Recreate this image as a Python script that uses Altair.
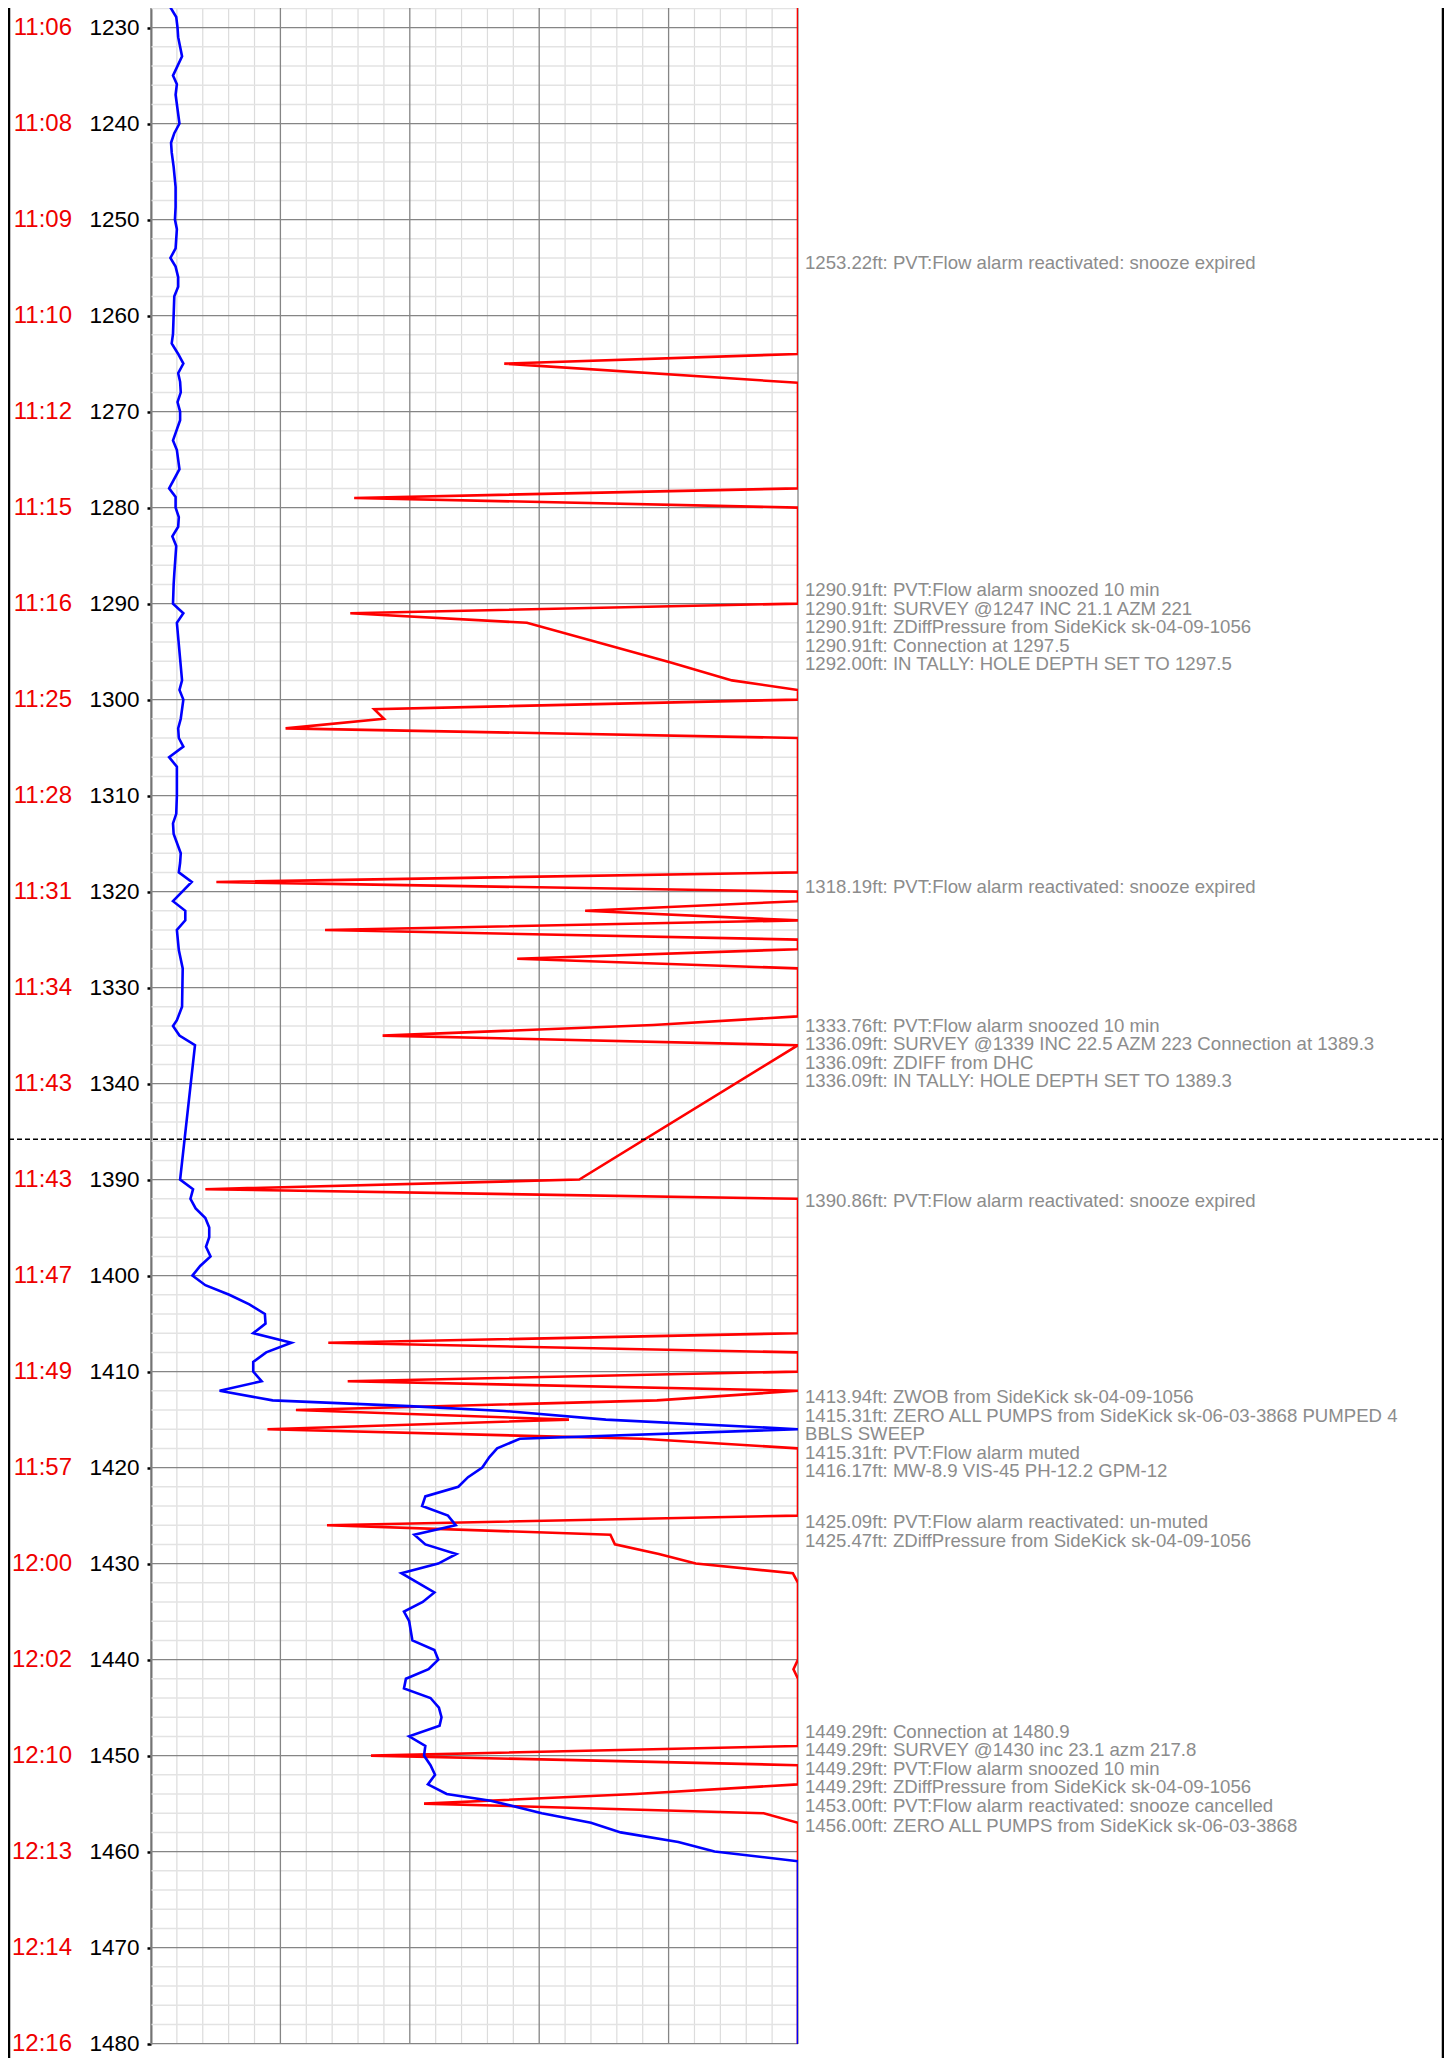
import altair as alt
import pandas as pd

tick_depth = [1230, 1240, 1250, 1260, 1270, 1280, 1290, 1300, 1310, 1320, 1330, 1340,
              1390, 1400, 1410, 1420, 1430, 1440, 1450, 1460, 1470, 1480]
tick_time = ["11:06", "11:08", "11:09", "11:10", "11:12", "11:15", "11:16", "11:25",
             "11:28", "11:31", "11:34", "11:43",
             "11:43", "11:47", "11:49", "11:57", "12:00", "12:02", "12:10", "12:13",
             "12:14", "12:16"]

blue_depth = [1227.15, 1227.9, 1228.9, 1230, 1231, 1233, 1235, 1235.9, 1237, 1240,
              1241, 1242, 1243, 1244.5, 1246.6, 1248.7, 1250, 1251, 1253, 1254,
              1254.9, 1256, 1257, 1258, 1261.9, 1262.9, 1264, 1265, 1266, 1266.9,
              1268, 1269, 1270, 1270.9, 1273, 1274, 1276, 1278, 1278.9, 1280,
              1281, 1282, 1283, 1284, 1286.9, 1288, 1290, 1291, 1292, 1298,
              1299, 1300, 1302, 1303, 1304, 1304.9, 1306, 1307, 1310, 1311.9,
              1312.9, 1314, 1316, 1317, 1318, 1319, 1321, 1322, 1323, 1324,
              1326.1, 1328, 1332, 1333.4, 1334, 1335, 1336,
              1390, 1391, 1392, 1393, 1394, 1395, 1396, 1397, 1398, 1399,
              1400, 1401, 1402, 1403, 1404, 1405, 1406, 1407, 1408, 1409,
              1410, 1411, 1412, 1413, 1413.6, 1414.1, 1415, 1416, 1417, 1418,
              1418.9, 1420, 1421, 1422, 1423, 1424, 1425, 1426, 1427, 1428,
              1429, 1430, 1431, 1433, 1434, 1435, 1436, 1438, 1439, 1440,
              1441, 1442, 1443, 1444, 1445, 1446, 1446.9, 1448, 1449, 1450,
              1451, 1452, 1453, 1454, 1454.7, 1456, 1457, 1458, 1459, 1460,
              1461, 1484]
blue_value = [3.3, 3.0, 3.9, 4.1, 4.2, 4.8, 3.4, 4.0, 3.8, 4.4,
              3.6, 3.1, 3.2, 3.5, 3.8, 3.8, 3.7, 4.0, 3.8, 3.0,
              3.8, 4.2, 4.2, 3.6, 3.4, 3.2, 4.2, 5.0, 4.2, 4.5,
              4.6, 4.1, 4.5, 4.5, 3.4, 4.0, 4.4, 2.8, 3.8, 3.8,
              4.3, 4.2, 3.3, 3.9, 3.6, 3.5, 3.4, 5.0, 4.0, 4.8,
              4.4, 5.0, 4.6, 4.2, 4.3, 5.0, 2.8, 4.0, 4.0, 3.9,
              3.4, 3.5, 4.6, 4.5, 4.3, 6.3, 3.4, 5.3, 5.3, 4.0,
              4.3, 4.9, 4.8, 4.0, 3.4, 4.4, 6.8,
              4.5, 6.5, 6.1, 6.9, 8.4, 9.0, 9.0, 8.5, 9.2, 7.6,
              6.4, 8.4, 12.1, 15.2, 17.6, 17.7, 15.8, 21.7, 17.8, 15.8,
              15.8, 17.1, 10.6, 18.8, 39.9, 54.5, 70.3, 100, 57.0, 53.5,
              52.3, 51.2, 49.0, 47.5, 42.4, 41.9, 45.9, 47.1, 40.7, 42.4,
              47.2, 44.4, 38.7, 43.8, 42.0, 39.1, 39.9, 40.4, 43.8, 44.4,
              42.9, 39.4, 39.1, 43.2, 44.5, 44.9, 44.6, 39.9, 42.4, 42.2,
              43.2, 43.9, 42.8, 45.7, 52.5, 60.4, 68.0, 72.6, 81.5, 87.1,
              100, 100]

red_depth = [1226, 1264, 1265, 1267, 1278, 1279, 1280, 1290, 1291, 1292,
             1296.1, 1298, 1299, 1300, 1301, 1302, 1303, 1304, 1318, 1319,
             1320, 1321, 1322, 1323, 1324, 1325, 1326, 1327, 1328, 1333,
             1333.9, 1335, 1336, 1390, 1391, 1392, 1406, 1407, 1408, 1410,
             1411, 1412, 1413, 1414, 1415, 1416, 1417, 1418, 1425, 1426,
             1427, 1428, 1429, 1430, 1431, 1432, 1440, 1441, 1442, 1449,
             1450, 1451, 1453, 1454, 1455, 1456, 1457, 1484]
red_value = [100, 100, 54.6, 100, 100, 31.4, 100, 100, 30.8, 58.1,
             80.2, 89.8, 100, 100, 34.5, 36.0, 20.8, 100, 100, 10.1,
             100, 100, 67.1, 100, 26.9, 100, 100, 56.6, 100, 100,
             77.6, 35.8, 100, 66.2, 8.4, 100, 100, 27.4, 100, 100,
             30.4, 100, 78.2, 22.4, 64.6, 18.0, 75.9, 100, 100, 27.2,
             71.0, 71.7, 78.5, 84.2, 99.2, 100, 100, 99.3, 100, 100,
             34.0, 100, 100, 74.9, 42.2, 94.7, 100, 100]

event_depth = [1253.22, 1290.91, 1290.91, 1290.91, 1290.91, 1292.00, 1318.19,
               1333.76, 1336.09, 1336.09, 1336.09, 1390.86, 1413.94, 1415.31,
               1415.31, 1416.17, 1425.09, 1425.47, 1449.29, 1449.29, 1449.29,
               1449.29, 1453.00, 1456.00]
event_text = [
    "PVT:Flow alarm reactivated: snooze expired",
    "PVT:Flow alarm snoozed 10 min",
    "SURVEY @1247 INC 21.1 AZM 221",
    "ZDiffPressure from SideKick sk-04-09-1056",
    "Connection at 1297.5",
    "IN TALLY: HOLE DEPTH SET TO 1297.5",
    "PVT:Flow alarm reactivated: snooze expired",
    "PVT:Flow alarm snoozed 10 min",
    "SURVEY @1339 INC 22.5 AZM 223 Connection at 1389.3",
    "ZDIFF from DHC",
    "IN TALLY: HOLE DEPTH SET TO 1389.3",
    "PVT:Flow alarm reactivated: snooze expired",
    "ZWOB from SideKick sk-04-09-1056",
    "ZERO ALL PUMPS from SideKick sk-06-03-3868 PUMPED 4\nBBLS SWEEP",
    "PVT:Flow alarm muted",
    "MW-8.9 VIS-45 PH-12.2 GPM-12",
    "PVT:Flow alarm reactivated: un-muted",
    "ZDiffPressure from SideKick sk-04-09-1056",
    "Connection at 1480.9",
    "SURVEY @1430 inc 23.1 azm 217.8",
    "PVT:Flow alarm snoozed 10 min",
    "ZDiffPressure from SideKick sk-04-09-1056",
    "PVT:Flow alarm reactivated: snooze cancelled",
    "ZERO ALL PUMPS from SideKick sk-06-03-3868",
]

# ---------------- broken depth axis ----------------
BREAK_DEPTH = 1345.8   # where the upper section ends
BREAK_GAP = 40.0       # depth skipped by the break


def to_plot(d):
    return d if d < 1365 else d - BREAK_GAP


PX_PER_FT = 9.6
W = 647
H = 2036
PAD_B = 14
Y_MIN = 1227.96
Y_MAX = Y_MIN + H / PX_PER_FT
FONT = "Liberation Sans"

ysc = alt.Scale(domain=[Y_MIN, Y_MAX], reverse=True, nice=False, zero=False)
xsc = alt.Scale(domain=[0, 100], nice=False, zero=False)

major_y = [to_plot(d) for d in tick_depth]
yaxis = alt.Axis(
    values=major_y,
    labelExpr=f"datum.value > {BREAK_DEPTH} ? format(datum.value + {BREAK_GAP}, 'd') : format(datum.value, 'd')",
    title=None, grid=False,
    ticks=True, tickSize=4, tickWidth=2.5, tickColor="black",
    domain=True, domainColor="#555555", domainWidth=1.8,
    labelFont=FONT, labelFontSize=22.5, labelColor="black", labelPadding=8,
    labelBound=False, labelFlush=False,
)


def Y(f):
    return alt.Y(f"{f}:Q", scale=ysc, axis=yaxis)


def X(f):
    return alt.X(f"{f}:Q", scale=xsc, axis=None)


# grid positions
minor_x = [v for v in range(0, 101, 4) if v % 20]
major_x = list(range(0, 101, 20))
minor_y = [v for v in range(1228, int(Y_MAX) + 1, 2) if v % 10]
major_yg = list(range(1230, int(Y_MAX) + 1, 10))

vminor = alt.Chart(pd.DataFrame({"x": minor_x})).mark_rule(
    color="#dcdcdc", strokeWidth=1.2).encode(x=X("x"))
hminor = alt.Chart(pd.DataFrame({"y": minor_y})).mark_rule(
    color="#e3e3e3", strokeWidth=1.5).encode(y=Y("y"))
vmajor = alt.Chart(pd.DataFrame({"x": major_x})).mark_rule(
    color="#858585", strokeWidth=1.3).encode(x=X("x"))
hmajor = alt.Chart(pd.DataFrame({"y": major_yg})).mark_rule(
    color="#858585", strokeWidth=1.3).encode(y=Y("y"))

red_df = pd.DataFrame({"y": [to_plot(d) for d in red_depth], "v": red_value,
                       "i": list(range(len(red_depth)))})
blue_df = pd.DataFrame({"y": [to_plot(d) for d in blue_depth], "v": blue_value,
                        "i": list(range(len(blue_depth)))})

red_line = alt.Chart(red_df).mark_line(color="#ff0000", strokeWidth=2.6, clip=True).encode(
    x=X("v"), y=Y("y"), order="i:Q")
blue_line = alt.Chart(blue_df).mark_line(color="#0000ff", strokeWidth=2.6, clip=True).encode(
    x=X("v"), y=Y("y"), order="i:Q")

one = pd.DataFrame({"a": [0]})
LEFT_FRAME = -142
RIGHT_FRAME = 1292
break_rule = alt.Chart(pd.DataFrame({"y": [BREAK_DEPTH]})).mark_rule(
    color="black", strokeWidth=1.4, strokeDash=[5, 3]).encode(
    y=Y("y"), x=alt.value(LEFT_FRAME), x2=alt.value(RIGHT_FRAME))
frame_l = alt.Chart(one).mark_rule(color="black", strokeWidth=2.5).encode(
    x=alt.value(LEFT_FRAME), y=alt.value(0), y2=alt.value(H + PAD_B))
frame_r = alt.Chart(one).mark_rule(color="black", strokeWidth=2.5).encode(
    x=alt.value(RIGHT_FRAME), y=alt.value(0), y2=alt.value(H + PAD_B))

time_df = pd.DataFrame({"y": major_y, "t": tick_time})
time_labels = alt.Chart(time_df).mark_text(
    align="right", baseline="middle", font=FONT, fontSize=24, color="#ee0000").encode(
    y=Y("y"), x=alt.value(-79), text="t:N")

# ---- event label layout: stack lines, groups centred on their depths ----
LH = 18.5 / PX_PER_FT
OFF = 13.0 / PX_PER_FT
items = []
for d, msg in zip(event_depth, event_text):
    lines = msg.split("\n")
    lines = [f"{d:.2f}ft: {lines[0]}"] + lines[1:]
    items.append((to_plot(d), lines))

groups = [[k] for k in range(len(items))]


def g_n(g):
    return sum(len(items[k][1]) for k in g)


def g_center(g):
    return sum(items[k][0] for k in g) / len(g) + OFF


changed = True
while changed:
    changed = False
    for k in range(len(groups) - 1):
        a, b = groups[k], groups[k + 1]
        bottom_a = g_center(a) + g_n(a) * LH / 2
        top_b = g_center(b) - g_n(b) * LH / 2
        if top_b < bottom_a:
            groups[k] = a + b
            del groups[k + 1]
            changed = True
            break

ann_y, ann_t = [], []
for g in groups:
    n = g_n(g)
    c = g_center(g)
    j = 0
    for k in g:
        for line in items[k][1]:
            ann_y.append(c + (j - (n - 1) / 2) * LH)
            ann_t.append(line)
            j += 1

ann_df = pd.DataFrame({"y": ann_y, "text": ann_t})
annotations = alt.Chart(ann_df).mark_text(
    align="left", baseline="middle", font=FONT, fontSize=18.6, color="#8c8c8c").encode(
    y=Y("y"), x=alt.value(W + 7), text="text:N")

TOTAL_W = 1436
chart = alt.layer(
    vminor, hminor, vmajor, hmajor, red_line, blue_line,
    break_rule, frame_l, frame_r, time_labels, annotations,
).properties(
    width=W, height=H,
    padding={"left": 143, "right": TOTAL_W - 143 - W, "top": 0, "bottom": PAD_B},
    autosize=alt.AutoSizeParams(type="none"),
).configure_view(strokeWidth=0)

chart.save("out.html", embed_options={"renderer": "svg", "actions": False})
